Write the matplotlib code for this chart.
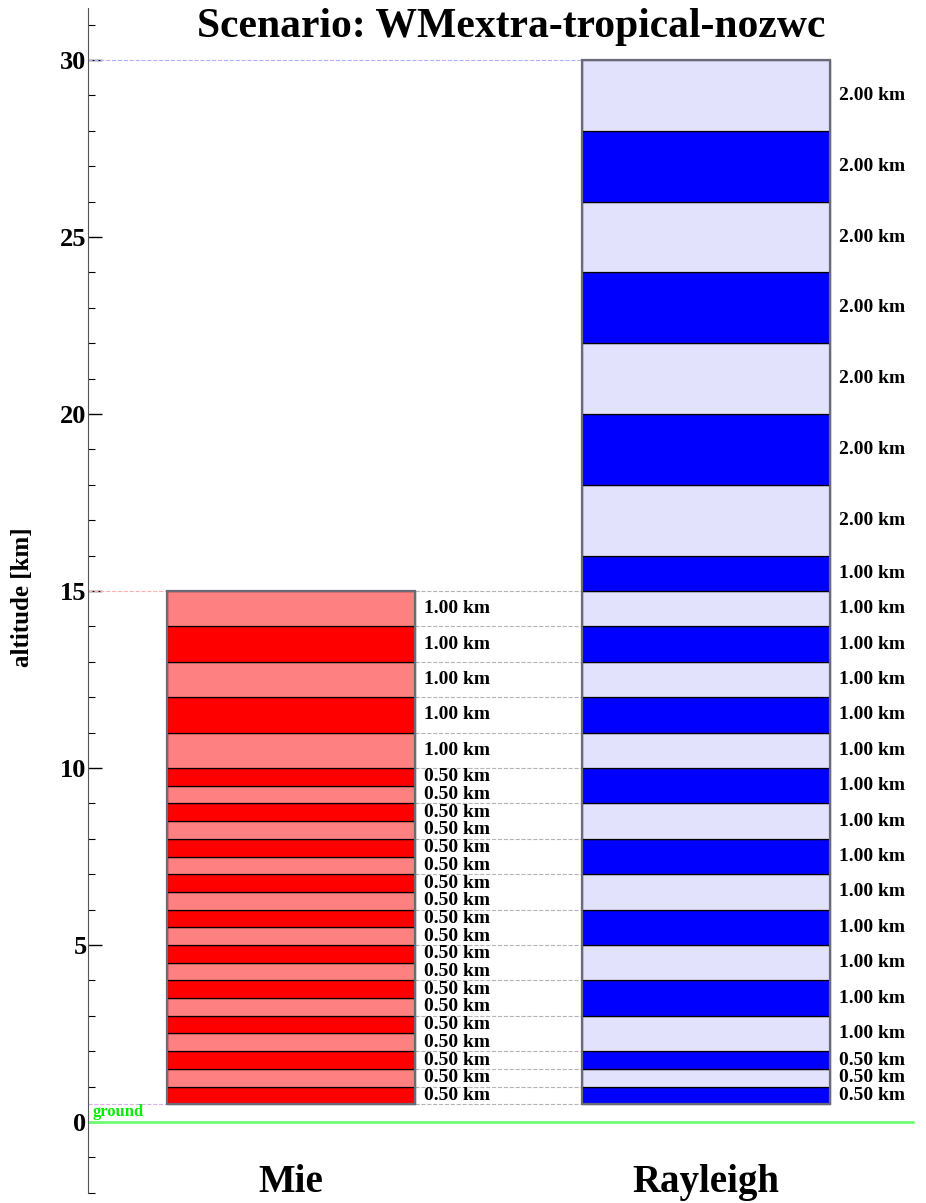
import numpy as np
import matplotlib.pyplot as plt
from matplotlib.ticker import MultipleLocator

plt.rcParams['font.family'] = ['Liberation Serif', 'DejaVu Serif']
plt.rcParams['font.weight'] = 'bold'

# layer boundaries [km]
mie_bounds = [0.5, 1.0, 1.5, 2.0, 2.5, 3.0, 3.5, 4.0, 4.5, 5.0, 5.5, 6.0, 6.5,
              7.0, 7.5, 8.0, 8.5, 9.0, 9.5, 10.0, 11.0, 12.0, 13.0, 14.0, 15.0]
ray_bounds = [0.5, 1.0, 1.5, 2.0, 3.0, 4.0, 5.0, 6.0, 7.0, 8.0, 9.0, 10.0, 11.0,
              12.0, 13.0, 14.0, 15.0, 16.0, 18.0, 20.0, 22.0, 24.0, 26.0, 28.0, 30.0]
columns = ['Mie', 'Rayleigh']
title = 'Scenario: WMextra-tropical-nozwc'

mie_colors = ['#ff0000', '#ff8080']
ray_colors = ['#0000ff', '#e2e2fc']

W, H = 926, 1203
fig = plt.figure(figsize=(W / 100, H / 100), dpi=100)
ax = fig.add_axes([88 / W, 1 - 1193 / H, 838 / W, (1193 - 8) / H])
ax.set_xlim(0, 1)
ax.set_ylim(-2.006, 31.47)

x_mie, x_ray, bw = 0.242, 0.737, 0.296


def draw_column(xc, bounds, cols):
    b = np.array(bounds)
    th = np.diff(b)
    c = [cols[i % 2] for i in range(len(th))]
    ax.bar(np.full(len(th), xc), th, bottom=b[:-1], width=bw, color=c,
           edgecolor='black', linewidth=0.9, zorder=3)
    ax.bar(xc, b[-1] - b[0], bottom=b[0], width=bw, fill=False,
           edgecolor='#6a6a78', linewidth=1.6, zorder=4)
    for lo, t in zip(b[:-1], th):
        ax.text(xc + bw / 2 + 0.011, lo + t / 2, f'{t:.2f} km', fontsize=14,
                fontweight='bold', ha='left', va='center', zorder=5)


draw_column(x_mie, mie_bounds, mie_colors)
draw_column(x_ray, ray_bounds, ray_colors)

# guide lines
ax.plot([0, x_mie - bw / 2], [mie_bounds[-1]] * 2, ls='--', lw=0.8, color='#ffb0b0', zorder=2)
ax.plot([0, x_ray - bw / 2], [ray_bounds[-1]] * 2, ls='--', lw=0.8, color='#b0b0ff', zorder=2)
ax.plot([0, x_mie - bw / 2], [mie_bounds[0]] * 2, ls='--', lw=0.8, color='#d8b0e8', zorder=2)
for yb in ray_bounds:
    if yb <= mie_bounds[-1]:
        ax.plot([x_mie + bw / 2, x_ray - bw / 2], [yb, yb], ls='--', lw=0.8,
                color='#b4b4b4', zorder=2)

# ground
ax.plot([0, 0.984], [0, 0], color='#70ff70', lw=2, zorder=2)
ax.text(0.006, 0.06, 'ground', color='#00ee00', fontsize=12, fontweight='bold',
        ha='left', va='bottom')

for s in ['top', 'right', 'bottom']:
    ax.spines[s].set_visible(False)
ax.spines['left'].set_color('#555555')
ax.set_xticks([])
ax.yaxis.set_major_locator(MultipleLocator(5))
ax.yaxis.set_minor_locator(MultipleLocator(1))
ax.tick_params(axis='y', which='major', direction='in', length=10, width=1,
               labelsize=19, pad=1)
ax.tick_params(axis='y', which='minor', direction='in', length=5, width=0.8)
for lab in ax.get_yticklabels():
    lab.set_fontweight('bold')

fig.text(23 / W, 1 - 597 / H, 'altitude [km]', rotation=90, fontsize=18,
         fontweight='bold', ha='center', va='center')
fig.text(511 / W, 1 - 37 / H, title, fontsize=30, fontweight='bold',
         ha='center', va='baseline')
for xc, name in zip([x_mie, x_ray], columns):
    fig.text((88 + xc * 838) / W, 1 - 1192 / H, name, fontsize=28,
             fontweight='bold', ha='center', va='baseline')

fig.savefig('out.png', dpi=100)
